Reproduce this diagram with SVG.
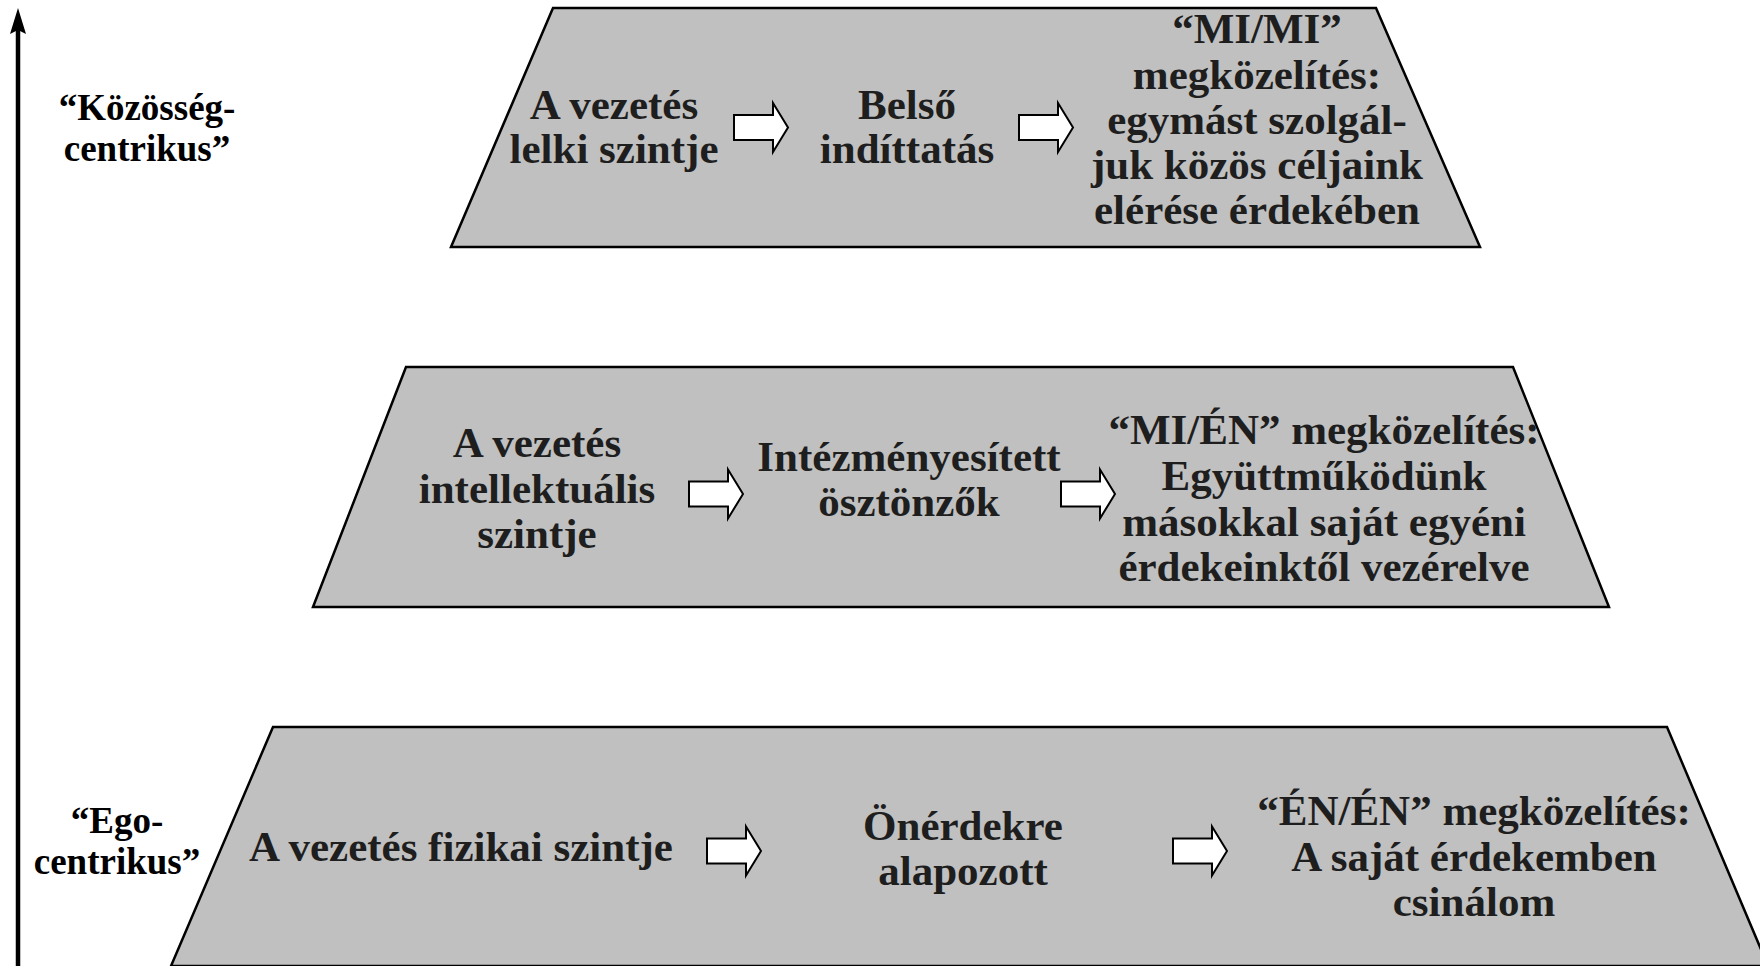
<svg xmlns="http://www.w3.org/2000/svg" width="1760" height="966" viewBox="0 0 1760 966">
<style>
.lvl{fill:#c0c0c0;stroke:#000;stroke-width:2.5;stroke-linejoin:miter}
.t{font-family:"Liberation Serif","Times New Roman",serif;font-weight:bold;font-size:43px;fill:#1e1e1e;text-anchor:middle}
.s{font-family:"Liberation Serif","Times New Roman",serif;font-weight:bold;font-size:37px;fill:#000;text-anchor:middle}
.ba{fill:#fff;stroke:#000;stroke-width:2}
</style>
<defs>
<marker id="ah" viewBox="0 0 26 16" refX="4" refY="8" markerWidth="26" markerHeight="16" markerUnits="userSpaceOnUse" orient="auto">
<path d="M0,0 L26,8 L0,16 L4,8 Z" fill="#000"/>
</marker>
<path id="barrow" d="M0,-12.5 L39,-12.5 L39,-24.5 L54,0 L39,24.5 L39,12.5 L0,12.5 Z"/>
</defs>
<rect width="1760" height="966" fill="#fff"/>
<g id="axis">
<line x1="18" y1="966" x2="18" y2="30" stroke="#000" stroke-width="4.5" marker-end="url(#ah)"/>
<text class="s" x="147" y="120">“Közösség-</text>
<text class="s" x="147" y="161">centrikus”</text>
<text class="s" x="117" y="833">“Ego-</text>
<text class="s" x="117" y="874">centrikus”</text>
</g>
<g id="level-top">
<polygon class="lvl" points="553,8 1376,8 1480,247 451,247"/>
<text class="t" x="614" y="119">A vezetés</text>
<text class="t" x="614" y="163">lelki szintje</text>
<text class="t" x="907" y="119">Belső</text>
<text class="t" x="907" y="163">indíttatás</text>
<text class="t" x="1257" y="43">“MI/MI”</text>
<text class="t" x="1257" y="89">megközelítés:</text>
<text class="t" x="1257" y="134">egymást szolgál-</text>
<text class="t" x="1257" y="179">juk közös céljaink</text>
<text class="t" x="1257" y="224">elérése érdekében</text>
</g>
<g id="level-middle">
<polygon class="lvl" points="406,367 1513,367 1609,607 313,607"/>
<text class="t" x="537" y="457">A vezetés</text>
<text class="t" x="537" y="503">intellektuális</text>
<text class="t" x="537" y="548">szintje</text>
<text class="t" x="909" y="471">Intézményesített</text>
<text class="t" x="909" y="516">ösztönzők</text>
<text class="t" x="1324" y="444">“MI/ÉN” megközelítés:</text>
<text class="t" x="1324" y="490">Együttműködünk</text>
<text class="t" x="1324" y="536">másokkal saját egyéni</text>
<text class="t" x="1324" y="581">érdekeinktől vezérelve</text>
</g>
<g id="level-bottom">
<polygon class="lvl" points="273,727 1667,727 1768,966 171,966"/>
<text class="t" x="461" y="861">A vezetés fizikai szintje</text>
<text class="t" x="963" y="840">Önérdekre</text>
<text class="t" x="963" y="885">alapozott</text>
<text class="t" x="1474" y="825">“ÉN/ÉN” megközelítés:</text>
<text class="t" x="1474" y="871">A saját érdekemben</text>
<text class="t" x="1474" y="916">csinálom</text>
</g>
<g id="connectors">
<use href="#barrow" class="ba" x="734" y="127.5"/>
<use href="#barrow" class="ba" x="1019" y="127.5"/>
<use href="#barrow" class="ba" x="689" y="494"/>
<use href="#barrow" class="ba" x="1061" y="494"/>
<use href="#barrow" class="ba" x="707" y="851"/>
<use href="#barrow" class="ba" x="1173" y="851"/>
</g>
</svg>
